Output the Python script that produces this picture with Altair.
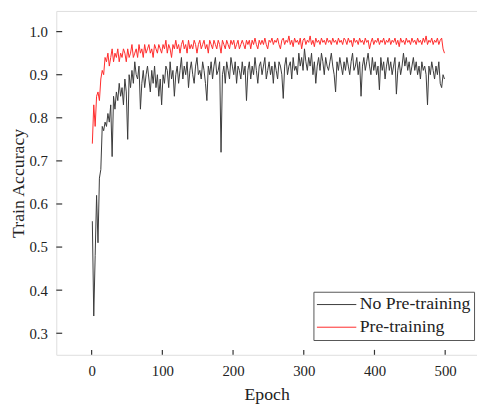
import altair as alt
import pandas as pd

epochs = list(range(1, 501, 2))

no_pretrain = [
    0.56, 0.34, 0.48, 0.62, 0.51, 0.66, 0.68, 0.78, 0.77, 0.79,
    0.78, 0.81, 0.79, 0.83, 0.71, 0.85, 0.82, 0.86, 0.84, 0.88,
    0.85, 0.87, 0.83, 0.89, 0.86, 0.75, 0.90, 0.87, 0.91, 0.88,
    0.93, 0.90, 0.89, 0.92, 0.82, 0.88, 0.91, 0.87, 0.90, 0.92,
    0.89, 0.86, 0.91, 0.88, 0.92, 0.87, 0.90, 0.85, 0.89, 0.83,
    0.90, 0.88, 0.92, 0.91, 0.87, 0.93, 0.89, 0.91, 0.85, 0.90,
    0.92, 0.88, 0.91, 0.94, 0.89, 0.92, 0.90, 0.93, 0.87, 0.91,
    0.93, 0.90, 0.88, 0.92, 0.94, 0.90, 0.91, 0.89, 0.93, 0.91,
    0.88, 0.84, 0.92, 0.90, 0.93, 0.89, 0.92, 0.94, 0.90, 0.91,
    0.93, 0.72, 0.90, 0.92, 0.88, 0.93, 0.91, 0.89, 0.94, 0.92,
    0.90, 0.93, 0.88, 0.92, 0.91, 0.89, 0.93, 0.90, 0.92, 0.84,
    0.91, 0.93, 0.89, 0.92, 0.90, 0.94, 0.91, 0.88, 0.92, 0.93,
    0.90, 0.92, 0.94, 0.89, 0.91, 0.93, 0.90, 0.92, 0.88, 0.93,
    0.91, 0.89, 0.93, 0.92, 0.90, 0.845, 0.92, 0.94, 0.90, 0.92,
    0.93, 0.89, 0.94, 0.91, 0.92, 0.90, 0.95, 0.92, 0.94, 0.91,
    0.96, 0.93, 0.91, 0.94, 0.92, 0.95, 0.90, 0.93, 0.88, 0.92,
    0.94, 0.91, 0.95, 0.93, 0.90, 0.94, 0.92, 0.91, 0.93, 0.95,
    0.92, 0.90, 0.86, 0.93, 0.91, 0.94, 0.92, 0.90, 0.93, 0.91,
    0.94, 0.92, 0.90, 0.93, 0.95, 0.91, 0.92, 0.94, 0.90, 0.93,
    0.85, 0.92, 0.94, 0.91, 0.93, 0.95, 0.92, 0.90, 0.94, 0.91,
    0.93, 0.90, 0.92, 0.865, 0.94, 0.91, 0.93, 0.89, 0.92, 0.94,
    0.91, 0.93, 0.90, 0.92, 0.94, 0.855, 0.91, 0.93, 0.90, 0.92,
    0.95, 0.92, 0.94, 0.91, 0.93, 0.90, 0.92, 0.94, 0.91, 0.93,
    0.90, 0.92, 0.89, 0.93, 0.91, 0.92, 0.90, 0.83, 0.92, 0.90,
    0.93, 0.91, 0.89, 0.92, 0.90, 0.93, 0.88, 0.87, 0.90, 0.89,
]

pretrain = [
    0.74, 0.83, 0.78, 0.85, 0.86, 0.84, 0.89, 0.91, 0.90, 0.94,
    0.93, 0.95, 0.92, 0.94, 0.96, 0.93, 0.95, 0.94, 0.96, 0.93,
    0.95, 0.94, 0.96, 0.95, 0.93, 0.96, 0.94, 0.95, 0.97, 0.94,
    0.95, 0.96, 0.94, 0.97, 0.95, 0.96, 0.94, 0.97, 0.95, 0.96,
    0.97, 0.95, 0.96, 0.94, 0.97, 0.96, 0.95, 0.97, 0.96, 0.95,
    0.97, 0.96, 0.98, 0.95, 0.97, 0.96, 0.94, 0.97, 0.96, 0.98,
    0.96, 0.97, 0.95, 0.97, 0.98, 0.96, 0.97, 0.95, 0.98, 0.96,
    0.97, 0.96, 0.98, 0.97, 0.95, 0.97, 0.98, 0.96, 0.97, 0.98,
    0.96, 0.97, 0.95, 0.98, 0.97, 0.96, 0.98, 0.97, 0.96, 0.98,
    0.97, 0.95, 0.98, 0.97, 0.96, 0.98, 0.97, 0.96, 0.98, 0.97,
    0.98, 0.96, 0.97, 0.98, 0.96, 0.97, 0.98, 0.97, 0.96, 0.98,
    0.97, 0.98, 0.96, 0.98, 0.97, 0.985, 0.97, 0.96, 0.98, 0.97,
    0.98, 0.97, 0.985, 0.97, 0.96, 0.98, 0.975, 0.985, 0.97, 0.98,
    0.975, 0.985, 0.97, 0.96, 0.98, 0.985, 0.97, 0.98, 0.975, 0.99,
    0.97, 0.98, 0.965, 0.985, 0.975, 0.98, 0.97, 0.985, 0.96, 0.98,
    0.985, 0.97, 0.98, 0.975, 0.99, 0.97, 0.98, 0.965, 0.985, 0.975,
    0.98, 0.97, 0.985, 0.975, 0.98, 0.97, 0.985, 0.975, 0.98, 0.97,
    0.985, 0.975, 0.98, 0.97, 0.985, 0.975, 0.98, 0.97, 0.985, 0.98,
    0.97, 0.985, 0.975, 0.98, 0.965, 0.985, 0.975, 0.98, 0.97, 0.985,
    0.975, 0.98, 0.97, 0.985, 0.975, 0.98, 0.96, 0.975, 0.985, 0.97,
    0.98, 0.975, 0.985, 0.97, 0.98, 0.975, 0.985, 0.97, 0.98, 0.975,
    0.985, 0.97, 0.98, 0.975, 0.985, 0.97, 0.98, 0.965, 0.985, 0.975,
    0.98, 0.97, 0.985, 0.975, 0.98, 0.97, 0.985, 0.975, 0.98, 0.97,
    0.985, 0.975, 0.98, 0.97, 0.985, 0.975, 0.99, 0.97, 0.98, 0.975,
    0.985, 0.97, 0.98, 0.975, 0.985, 0.97, 0.98, 0.985, 0.96, 0.95,
]

series_names = ["No Pre-training", "Pre-training"]
series_colors = ["#3a3a3a", "#ff2a2a"]
x_ticks = [0, 100, 200, 300, 400, 500]
y_ticks = [0.3, 0.4, 0.5, 0.6, 0.7, 0.8, 0.9, 1.0]

df = pd.concat([
    pd.DataFrame({"Epoch": epochs, "Acc": no_pretrain, "Series": series_names[0], "order": 0}),
    pd.DataFrame({"Epoch": epochs, "Acc": pretrain, "Series": series_names[1], "order": 1}),
])

W, H = 427, 349
FONT = "Liberation Serif"
TXT = "#222222"

xscale = alt.Scale(domain=[-50, 545], nice=False, zero=False)
yscale = alt.Scale(domain=[0.25, 1.048], nice=False, zero=False)

lines = alt.Chart(df).mark_line(strokeWidth=1, clip=True).encode(
    x=alt.X("Epoch:Q", scale=xscale,
            axis=alt.Axis(values=x_ticks, ticks=False, domain=False, grid=False,
                          labelPadding=9, labelFontSize=15, labelFont=FONT, labelColor=TXT,
                          title="Epoch", titleFont=FONT, titleColor=TXT,
                          titleFontSize=18, titleFontWeight="normal", titlePadding=7)),
    y=alt.Y("Acc:Q", scale=yscale,
            axis=alt.Axis(values=y_ticks, format=".1f", ticks=False, domain=False, grid=False,
                          labelPadding=9, labelFontSize=15, labelFont=FONT, labelColor=TXT,
                          title="Train Accuracy", titleFont=FONT, titleColor=TXT,
                          titleFontSize=18, titleFontWeight="normal", titlePadding=2)),
    color=alt.Color("Series:N",
                    scale=alt.Scale(domain=series_names, range=series_colors),
                    legend=alt.Legend(title=None, orient="none", legendX=261, legendY=285,
                                      symbolType="stroke", symbolSize=1600, symbolStrokeWidth=1,
                                      labelFontSize=18, labelFont=FONT, labelColor=TXT,
                                      clipHeight=20, rowPadding=3,
                                      strokeColor="#555555", fillColor="white",
                                      padding=3, labelOffset=3)),
    detail="Series:N",
    order="order:Q",
)

xt = alt.Chart(pd.DataFrame({"t": x_ticks})).mark_rule(color="#333333", strokeWidth=1.2).encode(
    x=alt.X("t:Q", scale=xscale), y=alt.value(H), y2=alt.value(H - 5))
yt = alt.Chart(pd.DataFrame({"t": y_ticks})).mark_rule(color="#333333", strokeWidth=1.2).encode(
    y=alt.Y("t:Q", scale=yscale), x=alt.value(0), x2=alt.value(6))

chart = alt.layer(lines, xt, yt).properties(
    width=W, height=H,
    autosize=alt.AutoSizeParams(type="none"),
    padding={"left": 49, "top": 0, "right": 0, "bottom": 50},
).configure_view(stroke="#444444", strokeWidth=1.5).configure(background="white")

chart.save("out.html", embed_options={"renderer": "svg", "actions": False})
